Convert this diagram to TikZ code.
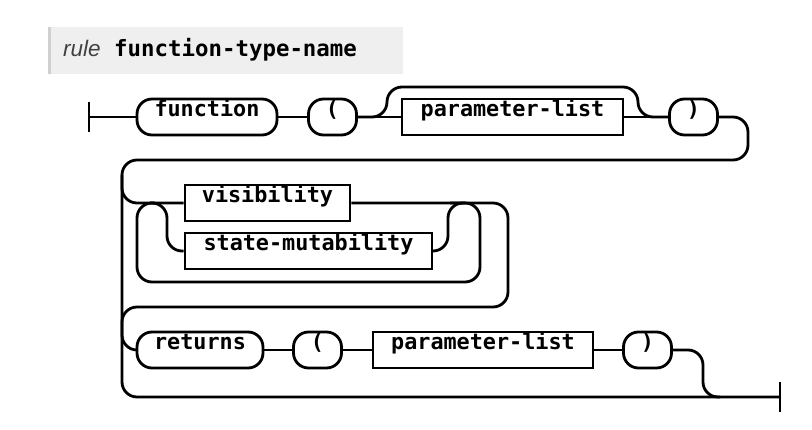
\documentclass[tikz,border=0pt]{standalone}
\usepackage{fontspec}
\setmonofont{DejaVu Sans Mono}
\newfontfamily\rulefont{Liberation Sans}
\definecolor{titlebg}{HTML}{EFEFEF}
\definecolor{titlebar}{HTML}{D0D0D0}
\definecolor{rulegray}{HTML}{404040}
\tikzset{
  rail/.style={line width=2.8pt, rounded corners=15pt},
  boxbase/.style={draw, line width=2.8pt, minimum height=36pt, inner sep=0pt,
    text height=7.5pt, text depth=8.5pt,
    font=\ttfamily\bfseries\fontsize{21.8}{22}\selectfont},
  term/.style={boxbase, rounded corners=15pt},
  nterm/.style={boxbase},
}
\begin{document}
\begin{tikzpicture}[x=1pt,y=-1pt]
\useasboundingbox (0,0) rectangle (812,430);
\fill[white] (0,0) rectangle (812,430);
% title
\fill[titlebg] (48,27) rectangle (403,74);
\fill[titlebar] (48,27) rectangle (51,74);
\node[anchor=base west, inner sep=0pt, text=rulegray, font=\rulefont\itshape\fontsize{22.5}{24}\selectfont] (rl) at (63,56.5) {rule};
\node[anchor=base west, inner sep=0pt, font=\ttfamily\bfseries\fontsize{22.4}{24}\selectfont] (tt) at (114,56.5) {function-type-name};
% row 1
\coordinate (start) at (89,117);
\coordinate (finish) at (780,397);
\node[term, minimum width=140pt] (fn) at (207,117) {function};
\node[term, minimum width=48pt] (lp) at (332.5,117) {(};
\node[nterm, minimum width=221pt] (pl1) at (512.5,117) {parameter-list};
\node[term, minimum width=48pt] (rp1) at (693.5,117) {)};
% row 2
\node[nterm, minimum width=165pt] (vis) at (267.5,203) {visibility};
\node[nterm, minimum width=247pt] (sm) at (308.5,251) {state-mutability};
% row 3
\node[term, minimum width=126pt] (ret) at (200,350) {returns};
\node[term, minimum width=48pt] (lp2) at (317.5,350) {(};
\node[nterm, minimum width=220pt] (pl2) at (483,350) {parameter-list};
\node[term, minimum width=48pt] (rp2) at (647.5,350) {)};
% bars
\draw[line width=2.8pt] (start) ++(0,-15) -- ++(0,30);
\draw[line width=2.8pt] (finish) ++(0,-15) -- ++(0,30);
% rails row 1
\draw[rail] (start) -- (fn.west);
\draw[rail] (fn.east) -- (lp.west);
\draw[rail] (lp.east) -- (pl1.west);
\draw[rail] (lp.east) -- (387,117) -- (387,87) -- (638,87) -- (638,117) -- (rp1.west);
\draw[rail] (pl1.east) -- (rp1.west);
\draw[rail] (rp1.east) -- (748,117) -- (748,160) -- (122,160) -- (122,397) -- (finish);
% rails row 2
\draw[rail] (122,175) -- (122,203) -- (vis.west);
\draw[rail] (150,203) -- (167,203) -- (167,251) -- (sm.west);
\draw[rail] (sm.east) -- (448,251) -- (448,203) -- (465,203);
\draw[rail] (vis.east) -- (508,203) -- (508,307) -- (122,307) -- (122,350) -- (ret.west);
\draw[rail] (450,203) -- (480,203) -- (480,282) -- (137,282) -- (137,203) -- (155,203);
% rails row 3
\draw[rail] (ret.east) -- (lp2.west);
\draw[rail] (lp2.east) -- (pl2.west);
\draw[rail] (pl2.east) -- (rp2.west);
\draw[rail] (rp2.east) -- (703,350) -- (703,397) -- (720,397);
\end{tikzpicture}
\end{document}
